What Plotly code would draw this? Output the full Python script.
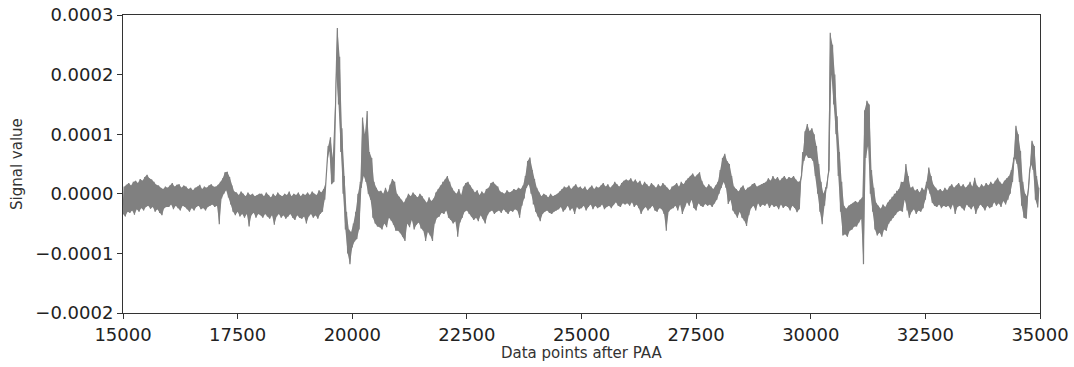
import plotly.graph_objects as go

x_start = 15000
x_step = 50

sig_hi = [
    12, 15, 18, 14, 20, 22, 18, 25, 22, 28, 32, 26, 24, 20, 15, 14, 10, 8, 12, 10,
    14, 18, 12, 15, 16, 10, 14, 12, 8, 10, 6, 10, 12, 15, 8, 12, 10, 14, 16, 12,
    12, 15, 20, 26, 36, 37, 28, 14, 4, 2, -2, 4, 0, -4, 2, -2, 0, -4, -2, 0,
    0, -4, 2, -2, -6, 0, -4, 2, -2, -4, 0, -2, 4, -4, 0, -2, 2, -4, 0, -2,
    2, -2, 4, 0, -2, 6, 2, 8, 20, 80, 95, 60, 150, 278, 230, 110, 30, -30, -60, -64,
    -50, -30, 0, 20, 128, 100, 139, 70, 60, 20, 10, 4, 5, 0, 10, 2, 15, 25, 20, 0,
    -5, -10, -15, -8, 0, -4, 2, -2, -6, 0, -4, -10, -15, -6, -12, -8, 2, 8, 14, 20,
    24, 30, 20, 10, 4, 0, 8, -2, 12, 18, 20, 14, 8, 2, 6, -2, 4, 0, 8, 10,
    18, 20, 15, 12, 4, 2, 0, 6, 2, 4, 8, 6, 10, 8, 14, 30, 55, 61, 40, 25,
    10, 2, -4, 0, -2, -6, 0, -4, -2, 0, 4, 8, 12, 10, 14, 8, 12, 16, 10, 12,
    8, 12, 6, 10, 14, 8, 12, 10, 14, 18, 12, 16, 10, 14, 20, 16, 12, 18, 22, 24,
    22, 26, 20, 24, 18, 22, 14, 20, 16, 12, 18, 14, 10, 16, 12, 18, 14, 10, 6, 12,
    14, 18, 12, 20, 16, 22, 26, 30, 34, 28, 32, 36, 22, 14, 10, 16, 12, 8, 14, 20,
    40, 60, 67, 55, 50, 30, 12, 8, 4, 10, 14, 6, 10, 12, 16, 18, 12, 14, 16, 18,
    20, 26, 22, 30, 24, 28, 22, 26, 30, 24, 28, 26, 30, 24, 20, 22, 70, 105, 117, 105,
    110, 100, 80, 50, 20, 0, 10, 30, 270, 250, 200, 130, 70, 20, -20, -25, -20, -18, -15, -12,
    -15, -10, -6, 140, 156, 150, 40, 10, -15, -20, -25, -18, -22, -15, -10, -5, 0, 5, 8, 20,
    20, 50, 30, 10, 12, 5, 8, 2, 10, 6, 20, 44, 30, 15, 10, 5, 8, 4, 10, 6,
    12, 16, 10, 14, 18, 12, 16, 10, 14, 20, 12, 27, 14, 10, 16, 12, 18, 14, 20, 16,
    22, 27, 20, 16, 22, 26, 30, 40, 60, 114, 100, 72, 20, 0, -5, 40, 89, 80, 30, 10,
]

sig_lo = [
    -34, -38, -30, -32, -28, -35, -26, -30, -24, -28, -22, -20, -25, -22, -30, -26, -32, -36, -24, -22,
    -22, -18, -26, -20, -24, -28, -20, -22, -26, -30, -24, -28, -22, -20, -26, -24, -28, -22, -20, -18,
    -22, -20, -51, -8, 0, 6, -6, -18, -30, -36, -30, -38, -34, -40, -34, -55, -36, -32, -40, -34,
    -36, -40, -34, -38, -42, -36, -52, -38, -34, -40, -36, -42, -38, -34, -40, -44, -36, -40, -42, -38,
    -50, -38, -34, -40, -36, -42, -34, -30, -10, 50, 72, 16, 20, 200, 150, 70, 0, -60, -100, -118,
    -90, -80, -76, -60, 10, 30, 20, 0, -10, -40, -50, -55, -56, -60, -50, -56, -40, -45, -52, -62,
    -62, -66, -72, -79, -50, -56, -44, -60, -52, -48, -58, -62, -79, -64, -70, -79, -50, -40, -38, -32,
    -34, -28, -40, -44, -50, -46, -72, -48, -40, -30, -28, -34, -38, -44, -40, -46, -36, -42, -50, -36,
    -30, -28, -34, -30, -28, -32, -26, -30, -34, -28, -30, -26, -28, -40, -20, -8, 10, 16, 0, -18,
    -30, -38, -46, -34, -30, -28, -32, -34, -30, -28, -26, -22, -30, -26, -20, -28, -24, -34, -22, -26,
    -24, -20, -28, -22, -18, -26, -20, -24, -22, -18, -26, -22, -20, -24, -18, -14, -20, -22, -16, -18,
    -16, -20, -14, -22, -18, -24, -34, -26, -22, -28, -24, -20, -28, -30, -24, -26, -34, -62, -30, -26,
    -24, -20, -28, -18, -34, -22, -14, -20, -10, -24, -28, -16, -20, -22, -17, -20, -18, -22, -16, -10,
    0, 10, 20, 10, -17, -10, -28, -34, -40, -30, -40, -45, -54, -36, -24, -20, -28, -16, -22, -18,
    -20, -16, -24, -18, -22, -20, -26, -18, -24, -20, -22, -28, -20, -24, -31, -26, 30, 55, 65, 60,
    60, 55, 30, 0, -30, -51, -20, 10, 40, 200, 150, 100, 30, -30, -70, -68, -72, -62, -60, -55,
    -55, -48, -42, -118, 60, 80, 0, -30, -60, -70, -65, -72, -60, -62, -50, -45, -40, -35, -30, -28,
    -30, -10, -28, -40, -30, -26, -34, -28, -30, -24, -10, 10, 0, -15, -20, -22, -18, -24, -20, -22,
    -20, -26, -18, -34, -22, -20, -24, -28, -18, -22, -26, -20, -34, -24, -18, -22, -28, -20, -24, -22,
    -14, -20, -16, -22, -12, -18, -10, 0, 20, 60, 50, 20, -20, -40, -42, 10, 50, 40, -10, -23,
]

x_ticks = [15000, 17500, 20000, 22500, 25000, 27500, 30000, 32500, 35000]
y_ticks = [-0.0002, -0.0001, 0.0, 0.0001, 0.0002, 0.0003]
y_tick_text = ["\u22120.0002", "\u22120.0001", "0.0000", "0.0001", "0.0002", "0.0003"]

x_lo = [x_start + i * x_step for i in range(len(sig_lo))]
x_hi = [x + x_step / 2 for x in x_lo]
y_lo = [v * 1e-6 for v in sig_lo]
y_hi = [v * 1e-6 for v in sig_hi]

xs, ys = [], []
for a, b, c, d in zip(x_lo, y_lo, x_hi, y_hi):
    xs += [a, c]
    ys += [b, d]

gray = "#808080"
fig = go.Figure()
# band between the lower and upper envelope
fig.add_trace(go.Scatter(x=x_lo, y=y_lo, mode="lines", line=dict(width=0, color=gray),
                         showlegend=False, hoverinfo="skip"))
fig.add_trace(go.Scatter(x=x_hi, y=y_hi, mode="lines", line=dict(width=0, color=gray),
                         fill="tonexty", fillcolor=gray, showlegend=False, hoverinfo="skip"))
# the signal itself
fig.add_trace(go.Scatter(x=xs, y=ys, mode="lines", line=dict(color=gray, width=1.2),
                         showlegend=False, hoverinfo="skip"))

axis_common = dict(showline=True, linecolor="#333333", linewidth=1, mirror=True,
                   ticks="outside", ticklen=5, tickwidth=1, tickcolor="#333333",
                   showgrid=False, zeroline=False, automargin=False,
                   tickfont=dict(family="DejaVu Sans", size=18, color="#222222"))

fig.update_layout(
    width=1074, height=367,
    margin=dict(l=123, r=34, t=15, b=54),
    paper_bgcolor="white", plot_bgcolor="white",
    hovermode=False,
    xaxis=dict(range=[15000, 35000], tickvals=x_ticks,
               ticktext=[str(t) for t in x_ticks], **axis_common),
    yaxis=dict(range=[-0.0002, 0.0003], tickvals=y_ticks, ticktext=y_tick_text,
               **axis_common),
    annotations=[
        dict(text="Data points after PAA", xref="paper", yref="paper", x=0.5, y=0,
             yshift=-40, xanchor="center", yanchor="middle", showarrow=False,
             font=dict(family="DejaVu Sans", size=15, color="#333333")),
        dict(text="Signal value", xref="paper", yref="paper", x=0, y=0.5,
             xshift=-106, xanchor="center", yanchor="middle", showarrow=False,
             textangle=-90, font=dict(family="DejaVu Sans", size=15, color="#333333")),
    ],
)

# remove the default page margin so the figure fills the window exactly
fig.write_html("out.html", config={"displayModeBar": False},
               post_script="document.body.style.margin='0';document.body.style.overflow='hidden';")
